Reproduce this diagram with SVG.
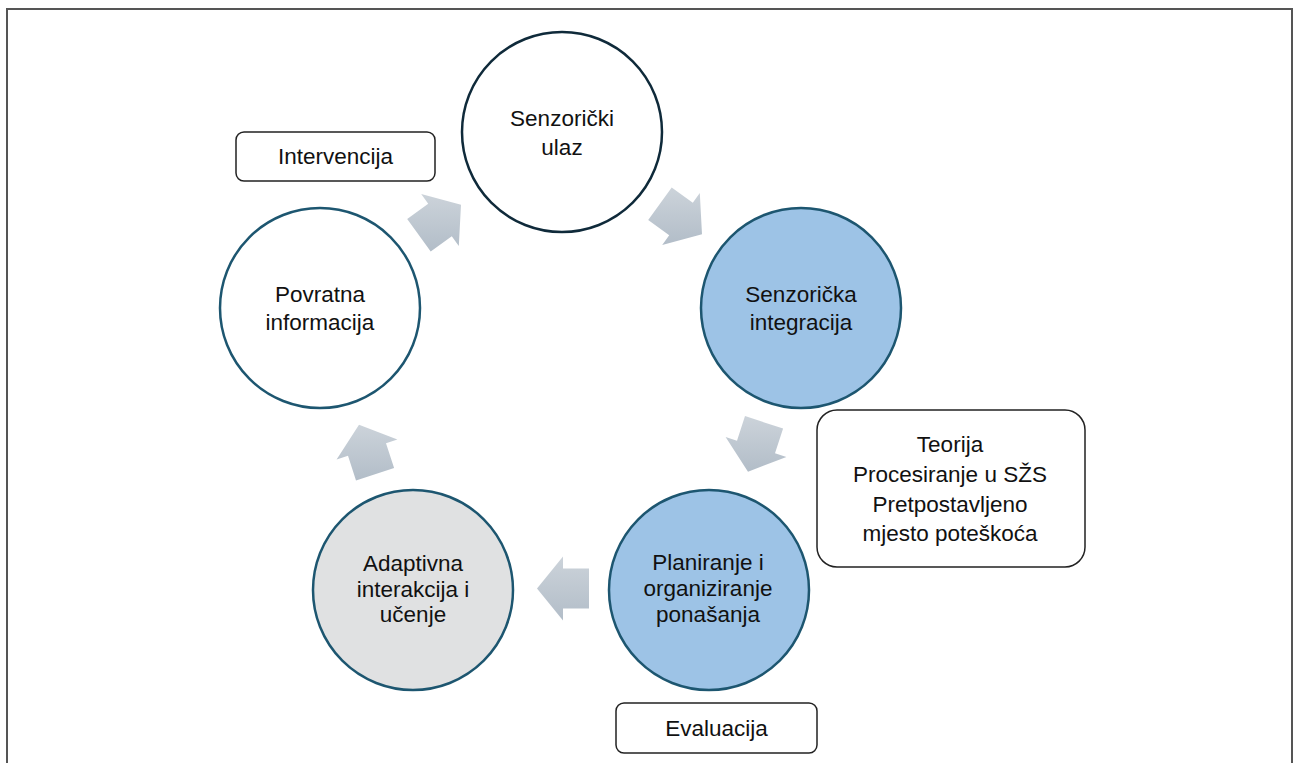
<svg xmlns="http://www.w3.org/2000/svg" width="1296" height="763" viewBox="0 0 1296 763">
  <defs>
    <linearGradient id="arrowGrad" x1="0" y1="0" x2="0" y2="1">
      <stop offset="0" stop-color="#ccd3da"/>
      <stop offset="1" stop-color="#b2bdc8"/>
    </linearGradient>
    <style>
      .t { font-family: "Liberation Sans", Arial, sans-serif; font-size: 22.5px; fill: #111; text-anchor: middle; }
      .c { stroke-width: 2.5; }
      .box { fill: #fff; stroke: #222; stroke-width: 1.5; }
      .arr { fill: url(#arrowGrad); }
    </style>
  </defs>
  <rect x="0" y="0" width="1296" height="763" fill="#fff"/>
  <rect x="7" y="9" width="1285" height="800" fill="none" stroke="#555" stroke-width="2"/>

  <g id="connectors">
    <polygon class="arr" points="407.2,219.1 428.2,203.8 421.2,194.1 461.0,204.7 458.8,245.9 451.8,236.2 430.7,251.5"/>
    <polygon class="arr" points="671.7,187.5 692.8,202.8 699.8,193.1 702.0,234.3 662.2,244.9 669.2,235.2 648.2,219.9"/>
    <polygon class="arr" points="783.1,428.5 775.0,453.2 786.4,456.9 748.0,471.7 725.6,437.1 737.0,440.8 745.0,416.1"/>
    <polygon class="arr" points="589,608.5 563,608.5 563,620.5 537,588.5 563,556.5 563,568.5 589,568.5"/>
    <polygon class="arr" points="356.0,480.4 348.0,455.7 336.6,459.4 359.0,424.8 397.4,439.6 386.0,443.3 394.1,468.1"/>
  </g>

  <g id="senzoricki-ulaz">
    <circle class="c" cx="562" cy="132" r="100" fill="#fff" stroke="#0f2a3a"/>
    <text class="t" x="562" y="126">Senzorički</text>
    <text class="t" x="562" y="155">ulaz</text>
  </g>
  <g id="senzoricka-integracija">
    <circle class="c" cx="801" cy="308" r="100" fill="#9dc3e6" stroke="#1d5670"/>
    <text class="t" x="801" y="302">Senzorička</text>
    <text class="t" x="801" y="330">integracija</text>
  </g>
  <g id="planiranje">
    <circle class="c" cx="709" cy="590" r="100" fill="#9dc3e6" stroke="#1d5670"/>
    <text class="t" x="708" y="570">Planiranje i</text>
    <text class="t" x="708" y="596">organiziranje</text>
    <text class="t" x="708" y="622">ponašanja</text>
  </g>
  <g id="adaptivna">
    <circle class="c" cx="413" cy="590" r="100" fill="#e0e1e2" stroke="#1d5670"/>
    <text class="t" x="413" y="571">Adaptivna</text>
    <text class="t" x="413" y="597">interakcija i</text>
    <text class="t" x="413" y="622">učenje</text>
  </g>
  <g id="povratna">
    <circle class="c" cx="320" cy="308" r="100" fill="#fff" stroke="#1d5670"/>
    <text class="t" x="320" y="302">Povratna</text>
    <text class="t" x="320" y="330">informacija</text>
  </g>

  <g id="intervencija">
    <rect class="box" x="236" y="132" width="199" height="49" rx="8"/>
    <text class="t" x="335.5" y="164">Intervencija</text>
  </g>
  <g id="teorija">
    <rect class="box" x="817" y="410" width="268" height="157" rx="20"/>
    <text class="t" x="950" y="452">Teorija</text>
    <text class="t" x="950" y="482">Procesiranje u SŽS</text>
    <text class="t" x="950" y="512">Pretpostavljeno</text>
    <text class="t" x="950" y="541">mjesto poteškoća</text>
  </g>
  <g id="evaluacija">
    <rect class="box" x="616" y="703" width="201" height="50" rx="8"/>
    <text class="t" x="716.5" y="736">Evaluacija</text>
  </g>
</svg>
